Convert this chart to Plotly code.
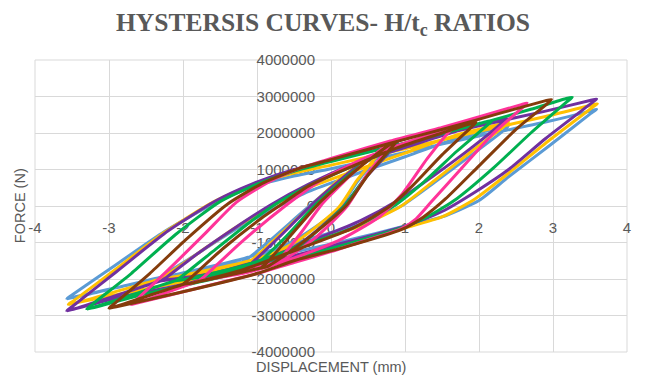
import plotly.graph_objects as go

# ---- tick labels ----
x_tick_vals = [-4, -3, -2, -1, 0, 1, 2, 3, 4]
x_tick_text = ["-4", "-3", "-2", "-1", "0", "1", "2", "3", "4"]
y_tick_vals = [-4e6, -3e6, -2e6, -1e6, 0, 1e6, 2e6, 3e6, 4e6]
y_tick_text = ["-4000000", "-3000000", "-2000000", "-1000000", "0",
               "1000000", "2000000", "3000000", "4000000"]

# ---- series (displacement mm, force N): small, medium, large cycles ----
blue_x = [-1.2, -1.13, -0.8, -0.35, 0.15, 0.57, 0.65, 0.6, 0.35, 0.1, -0.5, -1.11, -1.2,
          -2.3, -2.23, -1.8, -1.3, -0.75, -0.3, 0.3, 1.0, 1.7, 2.32, 2.4,
          2.34, 1.9, 1.4, 0.95, 0.4, -0.3, -1.2, -2.2, -2.3,
          -3.57, -3.5, -2.9, -2.25, -1.6, -1.1, -0.5, 0.0, 1.0, 2.0, 2.9, 3.5, 3.59,
          3.52, 2.95, 2.4, 2.0, 1.5, 1.0, 0.2, -0.7, -1.7, -2.7, -3.48, -3.57]
blue_y = [-1.55e6, -1.45e6, -0.9e6, -0.1e6, 0.75e6, 1.34e6, 1.4e6, 1.28e6, 0.65e6, -0.1e6, -0.95e6, -1.51e6, -1.55e6,
          -1.95e6, -1.85e6, -1.3e6, -0.65e6, -0.05e6, 0.4e6, 0.85e6, 1.35e6, 1.85e6, 2.16e6, 2.2e6,
          2.08e6, 1.4e6, 0.65e6, 0.0, -0.5e6, -0.9e6, -1.45e6, -1.92e6, -1.95e6,
          -2.54e6, -2.44e6, -1.6e6, -0.7e6, 0.05e6, 0.5e6, 0.82e6, 1.02e6, 1.47e6, 1.92e6, 2.3e6, 2.6e6, 2.65e6,
          2.55e6, 1.65e6, 0.8e6, 0.15e6, -0.3e6, -0.55e6, -0.95e6, -1.35e6, -1.8e6, -2.15e6, -2.5e6, -2.54e6]

gold_x = [-1.15, -1.08, -0.75, -0.3, 0.15, 0.57, 0.65, 0.6, 0.35, 0.1, -0.45, -1.06, -1.15,
          -2.3, -2.23, -1.8, -1.3, -0.75, -0.3, 0.3, 1.0, 1.7, 2.32, 2.4,
          2.34, 1.9, 1.4, 0.95, 0.4, -0.3, -1.2, -2.2, -2.3,
          -3.55, -3.48, -2.9, -2.25, -1.6, -1.1, -0.5, 0.0, 1.0, 2.0, 2.9, 3.51, 3.6,
          3.53, 2.95, 2.4, 1.95, 1.5, 1.0, 0.2, -0.7, -1.7, -2.7, -3.46, -3.55]
gold_y = [-1.6e6, -1.5e6, -0.9e6, -0.05e6, 0.8e6, 1.38e6, 1.44e6, 1.32e6, 0.7e6, -0.05e6, -0.95e6, -1.56e6, -1.6e6,
          -2.0e6, -1.9e6, -1.3e6, -0.6e6, 0.05e6, 0.5e6, 0.95e6, 1.45e6, 1.95e6, 2.26e6, 2.3e6,
          2.18e6, 1.5e6, 0.7e6, 0.0, -0.55e6, -1.0e6, -1.55e6, -1.97e6, -2.0e6,
          -2.7e6, -2.6e6, -1.72e6, -0.72e6, 0.1e6, 0.55e6, 0.9e6, 1.12e6, 1.57e6, 2.05e6, 2.45e6, 2.76e6, 2.8e6,
          2.7e6, 1.8e6, 0.9e6, 0.2e6, -0.3e6, -0.6e6, -1.05e6, -1.45e6, -1.95e6, -2.35e6, -2.66e6, -2.7e6]

purple_x = [-1.15, -1.08, -0.7, -0.25, 0.3, 0.82, 0.9, 0.85, 0.5, 0.15, -0.4, -1.06, -1.15,
            -2.29, -2.22, -1.8, -1.3, -0.8, -0.3, 0.3, 1.0, 1.7, 2.28, 2.37,
            2.31, 1.9, 1.4, 0.9, 0.4, -0.2, -0.9, -1.6, -2.2, -2.29,
            -3.57, -3.5, -2.9, -2.2, -1.55, -1.07, -0.5, 0.0, 1.0, 2.0, 2.9, 3.5, 3.59,
            3.52, 2.9, 2.4, 1.96, 1.5, 1.0, 0.0, -1.0, -2.0, -2.9, -3.48, -3.57]
purple_y = [-1.7e6, -1.58e6, -0.85e6, 0.05e6, 1.0e6, 1.66e6, 1.72e6, 1.6e6, 0.85e6, -0.05e6, -1.0e6, -1.66e6, -1.7e6,
            -2.05e6, -1.95e6, -1.3e6, -0.6e6, 0.05e6, 0.6e6, 1.15e6, 1.6e6, 2.05e6, 2.36e6, 2.4e6,
            2.28e6, 1.6e6, 0.85e6, 0.15e6, -0.4e6, -0.9e6, -1.45e6, -1.85e6, -2.02e6, -2.05e6,
            -2.87e6, -2.76e6, -1.8e6, -0.68e6, 0.15e6, 0.6e6, 1.0e6, 1.25e6, 1.72e6, 2.2e6, 2.6e6, 2.89e6, 2.93e6,
            2.82e6, 1.85e6, 1.0e6, 0.4e6, -0.15e6, -0.55e6, -1.1e6, -1.62e6, -2.15e6, -2.52e6, -2.83e6, -2.87e6]

green_x = [-1.05, -0.98, -0.6, -0.2, 0.3, 0.8, 0.88, 0.83, 0.5, 0.18, -0.35, -0.96, -1.05,
           -2.1, -2.03, -1.6, -1.1, -0.75, -0.3, 0.3, 0.9, 1.6, 2.1, 2.18,
           2.12, 1.7, 1.25, 0.85, 0.3, -0.4, -1.2, -2.0, -2.1,
           -3.3, -3.23, -2.7, -2.1, -1.5, -1.0, -0.5, 0.0, 1.0, 2.0, 2.7, 3.17, 3.26,
           3.19, 2.7, 2.2, 1.7, 1.3, 0.95, 0.2, -0.6, -1.6, -2.6, -3.2, -3.3]
green_y = [-1.68e6, -1.56e6, -0.82e6, 0.05e6, 0.95e6, 1.66e6, 1.72e6, 1.6e6, 0.88e6, 0.0, -0.95e6, -1.64e6, -1.68e6,
           -2.05e6, -1.95e6, -1.25e6, -0.45e6, 0.05e6, 0.55e6, 1.1e6, 1.6e6, 2.05e6, 2.31e6, 2.35e6,
           2.23e6, 1.5e6, 0.65e6, 0.0, -0.6e6, -1.1e6, -1.65e6, -2.02e6, -2.05e6,
           -2.82e6, -2.7e6, -1.85e6, -0.78e6, 0.12e6, 0.6e6, 0.95e6, 1.22e6, 1.72e6, 2.25e6, 2.65e6, 2.94e6, 2.98e6,
           2.86e6, 2.0e6, 1.05e6, 0.2e6, -0.3e6, -0.6e6, -1.05e6, -1.5e6, -2.0e6, -2.45e6, -2.78e6, -2.82e6]

pink_x = [-0.75, -0.68, -0.4, -0.1, 0.35, 0.77, 0.85, 0.8, 0.5, 0.22, -0.2, -0.66, -0.75,
          -1.78, -1.71, -1.2, -0.62, -0.1, 0.5, 1.1, 1.55, 1.64,
          1.58, 1.3, 0.95, 0.65, 0.1, -0.6, -1.2, -1.7, -1.78,
          -2.7, -2.63, -2.2, -1.7, -1.28, -0.8, -0.4, 0.0, 0.8, 1.5, 2.1, 2.56, 2.65,
          2.59, 2.2, 1.75, 1.35, 1.15, 0.95, 0.3, 0.0, -0.5, -1.0, -1.5, -2.2, -2.62, -2.7]
pink_y = [-1.55e6, -1.43e6, -0.72e6, 0.1e6, 1.0e6, 1.69e6, 1.75e6, 1.63e6, 0.9e6, 0.0, -0.85e6, -1.5e6, -1.55e6,
          -2.05e6, -1.93e6, -0.97e6, 0.0, 0.75e6, 1.35e6, 1.8e6, 2.08e6, 2.13e6,
          2.0e6, 1.3e6, 0.3e6, -0.3e6, -0.95e6, -1.5e6, -1.85e6, -2.02e6, -2.05e6,
          -2.7e6, -2.57e6, -1.75e6, -0.75e6, 0.1e6, 0.7e6, 1.05e6, 1.3e6, 1.78e6, 2.15e6, 2.5e6, 2.77e6, 2.82e6,
          2.7e6, 2.0e6, 1.0e6, 0.1e6, -0.35e6, -0.62e6, -1.05e6, -1.25e6, -1.55e6, -1.85e6, -2.1e6, -2.45e6, -2.66e6, -2.7e6]

brown_x = [-0.95, -0.88, -0.55, -0.15, 0.35, 0.8, 0.88, 0.83, 0.5, 0.2, -0.35, -0.86, -0.95,
           -2.0, -1.93, -1.45, -0.95, -0.7, -0.3, 0.3, 0.9, 1.5, 1.88, 1.96,
           1.9, 1.5, 1.1, 0.8, 0.3, -0.4, -1.2, -1.9, -2.0,
           -3.0, -2.93, -2.45, -1.95, -1.4, -0.9, -0.4, 0.0, 0.8, 1.6, 2.3, 2.89, 2.98,
           2.92, 2.5, 2.0, 1.55, 1.25, 0.95, 0.2, -0.5, -1.0, -2.0, -2.9, -3.0]
brown_y = [-1.7e6, -1.58e6, -0.82e6, 0.1e6, 1.0e6, 1.69e6, 1.75e6, 1.63e6, 0.85e6, 0.0, -0.95e6, -1.66e6, -1.7e6,
           -2.15e6, -2.03e6, -1.15e6, -0.35e6, 0.0, 0.55e6, 1.1e6, 1.6e6, 2.0e6, 2.25e6, 2.29e6,
           2.17e6, 1.4e6, 0.55e6, 0.0, -0.6e6, -1.15e6, -1.75e6, -2.12e6, -2.15e6,
           -2.8e6, -2.68e6, -1.85e6, -0.9e6, 0.05e6, 0.65e6, 1.05e6, 1.27e6, 1.72e6, 2.15e6, 2.55e6, 2.88e6, 2.92e6,
           2.8e6, 2.1e6, 1.1e6, 0.2e6, -0.3e6, -0.65e6, -1.12e6, -1.5e6, -1.85e6, -2.35e6, -2.76e6, -2.8e6]

series = [
    (blue_x, blue_y, "#5B9BD5"),
    (gold_x, gold_y, "#FFC000"),
    (purple_x, purple_y, "#7030A0"),
    (green_x, green_y, "#00B050"),
    (pink_x, pink_y, "#FF3399"),
    (brown_x, brown_y, "#843C0C"),
]

fig = go.Figure()
for xs, ys, col in series:
    fig.add_trace(go.Scatter(x=xs, y=ys, mode="lines",
                             line=dict(color=col, width=3, shape="spline", smoothing=0.6),
                             showlegend=False, hoverinfo="skip"))

grid = "#d9d9d9"
tick_font = dict(family="Liberation Sans", size=15, color="#595959")

fig.update_layout(
    width=646, height=376,
    margin=dict(l=35, r=19, t=60, b=24),
    paper_bgcolor="white", plot_bgcolor="white",
    title=dict(text="<b>HYSTERSIS CURVES- H/t<sub>c</sub> RATIOS</b>",
               x=0.5, xanchor="center", y=1 - 22 / 376, yanchor="middle",
               font=dict(family="Liberation Serif", size=25.5, color="#595959")),
    xaxis=dict(range=[-4, 4], tickvals=x_tick_vals, ticktext=x_tick_text,
               showgrid=True, gridcolor=grid, gridwidth=1,
               zeroline=True, zerolinecolor=grid, zerolinewidth=1,
               showline=False, ticks="", tickfont=tick_font,
               anchor="free", position=0.5, ticklabelstandoff=11,
               layer="below traces"),
    yaxis=dict(range=[-4e6, 4e6], tickvals=y_tick_vals, ticktext=y_tick_text,
               showgrid=True, gridcolor=grid, gridwidth=1,
               zeroline=True, zerolinecolor=grid, zerolinewidth=1,
               showline=False, ticks="", tickfont=tick_font,
               anchor="free", position=0.5, ticklabelstandoff=16,
               layer="below traces"),
    shapes=[dict(type="rect", xref="paper", yref="paper", x0=0, x1=1, y0=0, y1=1,
                 line=dict(color=grid, width=1), layer="below")],
    annotations=[
        dict(text="FORCE (N)", xref="paper", yref="paper", x=-0.025, y=0.5,
             textangle=-90, showarrow=False, xanchor="center", yanchor="middle",
             font=dict(family="Liberation Sans", size=14.5, color="#595959")),
        dict(text="DISPLACEMENT (mm)", xref="paper", yref="paper", x=0.4992, y=-0.051,
             showarrow=False, xanchor="center", yanchor="middle",
             font=dict(family="Liberation Sans", size=14.5, color="#595959")),
    ],
)

fig.write_html("out.html")
